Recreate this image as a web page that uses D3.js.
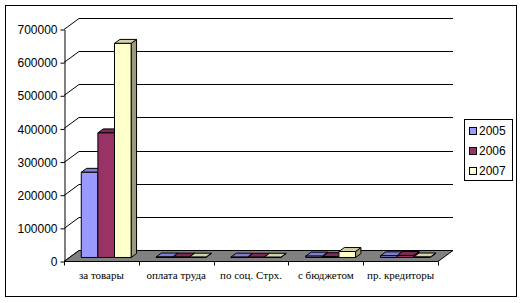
<!DOCTYPE html>
<html>
<head>
<meta charset="utf-8">
<script src="https://cdn.jsdelivr.net/npm/d3@7"></script>
<style>
	html, body { margin: 0; padding: 0; background: #fff; }
	#chart-area { width: 523px; height: 303px; }
	.axis-left text { font-family: Arial, "Liberation Sans", sans-serif; font-size: 12px; fill: #000; }
	.cat-label { font-family: "Times New Roman", "Liberation Serif", serif; font-size: 11px; fill: #000; }
	.legend text { font-family: Arial, "Liberation Sans", sans-serif; font-size: 12px; fill: #000; }
</style>
</head>
<body>
<div id="chart-area"></div>
<script>
const categories = ['за товары', 'оплата труда', 'по соц. Стрх.', 'с бюджетом', 'пр. кредиторы'];
const seriesNames = ['2005', '2006', '2007'];
const values2005 = [257000, 1500, 1000, 4000, 5000];
const values2006 = [376000, 1200, 800, 2500, 6000];
const values2007 = [646000, 1000, 700, 18000, 1500];
const yTicks = [0, 100000, 200000, 300000, 400000, 500000, 600000, 700000];
const seriesColors = ['#9999FF', '#993366', '#FFFFCC'];

window.addEventListener('DOMContentLoaded', (window_event) => {

	const plot = {
		left: 64,
		right: 438,
		top: 29,
		bottom: 261
	};
	// depth of the 3d floor/walls
	const depth = { dx: 15, dy: -11 };
	const barFront = 0.32;
	const barBack = 0.68;

	const svg = d3.select('#chart-area')
		.append('svg')
		.attr('width', 523)
		.attr('height', 303);

	// outer border
	svg.append('rect')
		.attr('x', 5.5)
		.attr('y', 5.5)
		.attr('width', 511)
		.attr('height', 291)
		.attr('fill', '#fff')
		.attr('stroke', '#000');

	const series = seriesNames.map((name, i) => ({
		name: name,
		color: seriesColors[i],
		values: [values2005, values2006, values2007][i]
	}));

	// Scales
	const x = d3.scaleBand()
		.domain(categories)
		.range([plot.left, plot.right])
		.padding(0);

	const xInner = d3.scaleBand()
		.domain(seriesNames)
		.range([0, x.bandwidth()])
		.paddingInner(0)
		.paddingOuter(0.75);

	const y = d3.scaleLinear()
		.domain([0, 700000])
		.range([plot.bottom, plot.top]);

	// Grid: diagonals on side wall + lines on back wall
	const grid = svg.append('g')
		.attr('stroke', '#000')
		.attr('stroke-width', 1);
	yTicks.forEach((t) => {
		const yy = Math.round(y(t)) + 0.5;
		grid.append('line')
			.attr('x1', plot.left).attr('y1', yy)
			.attr('x2', plot.left + depth.dx).attr('y2', yy + depth.dy);
		grid.append('line')
			.attr('x1', plot.left + depth.dx).attr('y1', yy + depth.dy)
			.attr('x2', plot.right + depth.dx).attr('y2', yy + depth.dy);
	});

	// Floor
	const fy = plot.bottom + 0.5;
	svg.append('path')
		.attr('d', `M${plot.left},${fy}L${plot.right},${fy}L${plot.right + depth.dx},${fy + depth.dy}L${plot.left + depth.dx},${fy + depth.dy}Z`)
		.attr('fill', '#808080')
		.attr('stroke', '#000');

	// Bars
	const bars = svg.append('g').attr('stroke', '#000').attr('stroke-width', 1).attr('stroke-linejoin', 'round');
	const ox = depth.dx * barFront, oy = depth.dy * barFront;
	const bx = depth.dx * (barBack - barFront), by = depth.dy * (barBack - barFront);

	categories.forEach((cat, ci) => {
		series.forEach((s) => {
			const v = s.values[ci];
			const x0 = x(cat) + xInner(s.name) + ox;
			const x1 = x0 + xInner.bandwidth();
			const y0 = y(0) + oy;
			const y1 = y(v) + oy;
			const base = d3.color(s.color);
			// side face
			bars.append('path')
				.attr('d', `M${x1},${y1}L${x1 + bx},${y1 + by}L${x1 + bx},${y0 + by}L${x1},${y0}Z`)
				.attr('fill', base.darker(1.4));
			// top face
			bars.append('path')
				.attr('d', `M${x0},${y1}L${x0 + bx},${y1 + by}L${x1 + bx},${y1 + by}L${x1},${y1}Z`)
				.attr('fill', base.darker(0.55));
			// front face
			bars.append('rect')
				.attr('x', x0)
				.attr('y', y1)
				.attr('width', x1 - x0)
				.attr('height', Math.max(0, y0 - y1))
				.attr('fill', s.color);
		});
	});

	// Y axis
	const leftAxis = d3.axisLeft(y)
		.tickValues(yTicks)
		.tickSize(4)
		.tickSizeOuter(0)
		.tickFormat(d3.format('d'));
	const ya = svg.append('g')
		.attr('class', 'axis-left')
		.attr('transform', `translate(${plot.left + 0.5}, 0.5)`)
		.call(leftAxis);
	ya.selectAll('path, line').attr('stroke', '#000');
	ya.selectAll('text').attr('x', -7).attr('dy', '0.35em');

	// X axis
	const xa = svg.append('g').attr('stroke', '#000');
	xa.append('line')
		.attr('x1', plot.left).attr('y1', fy)
		.attr('x2', plot.right).attr('y2', fy);
	const bounds = categories.map((c) => x(c)).concat([plot.right]);
	bounds.forEach((b) => {
		const bb = Math.round(b) + 0.5;
		xa.append('line')
			.attr('x1', bb).attr('y1', fy)
			.attr('x2', bb).attr('y2', fy + 4);
	});

	svg.append('g')
		.selectAll('text')
		.data(categories)
		.enter()
			.append('text')
			.attr('class', 'cat-label')
			.attr('x', (d) => x(d) + x.bandwidth() / 2)
			.attr('y', 279)
			.attr('text-anchor', 'middle')
			.text((d) => d);

	// Legend
	const legend = svg.append('g').attr('class', 'legend');
	legend.append('rect')
		.attr('x', 464.5)
		.attr('y', 119.5)
		.attr('width', 48)
		.attr('height', 61)
		.attr('fill', '#fff')
		.attr('stroke', '#000');
	series.forEach((s, i) => {
		const cy = 131 + i * 20;
		legend.append('rect')
			.attr('x', 469.5)
			.attr('y', cy - 3.5)
			.attr('width', 7)
			.attr('height', 7)
			.attr('fill', s.color)
			.attr('stroke', '#000');
		legend.append('text')
			.attr('x', 479)
			.attr('y', cy)
			.attr('dy', '0.35em')
			.text(s.name);
	});

}); // end of document ready
</script>
</body>
</html>
